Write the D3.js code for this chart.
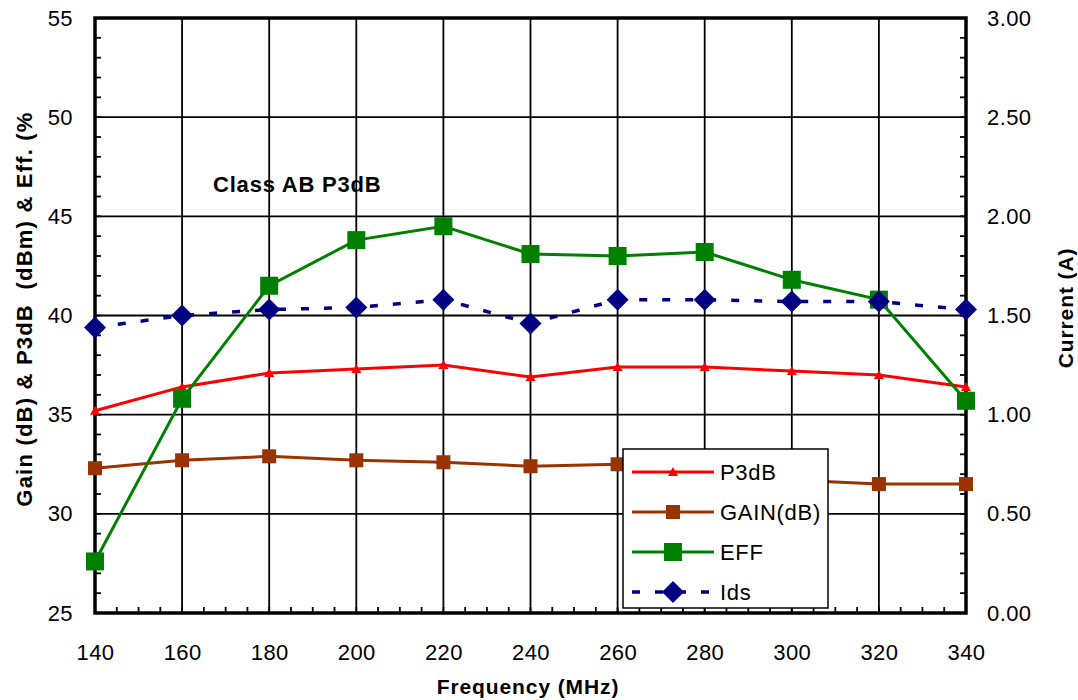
<!DOCTYPE html>
<html>
<head>
<meta charset="utf-8">
<script src="https://cdn.jsdelivr.net/npm/d3@7"></script>
<style>
  html, body { margin: 0; padding: 0; background: #fff; }
  svg { display: block; font-family: "Liberation Sans", Arial, sans-serif; }
  text { white-space: pre; }
</style>
</head>
<body>
<svg id="chart" width="1078" height="700"></svg>
<script>
// Frequency sweep (MHz)
const frequency = [140, 160, 180, 200, 220, 240, 260, 280, 300, 320, 340];
// Saturated output power P3dB (dBm)
const p3db = [35.2, 36.4, 37.1, 37.3, 37.5, 36.9, 37.4, 37.4, 37.2, 37.0, 36.4];
// Gain (dB)
const gain = [32.3, 32.7, 32.9, 32.7, 32.6, 32.4, 32.5, 32.1, 31.7, 31.5, 31.5];
// Drain efficiency (%)
const eff = [27.6, 35.8, 41.5, 43.8, 44.5, 43.1, 43.0, 43.2, 41.8, 40.8, 35.7];
// Drain current Ids (A), right axis
const ids = [1.44, 1.50, 1.53, 1.54, 1.58, 1.46, 1.58, 1.58, 1.57, 1.57, 1.53];

const xTicks = [140, 160, 180, 200, 220, 240, 260, 280, 300, 320, 340];
const yLeftTicks = [25, 30, 35, 40, 45, 50, 55];
const yRightTicks = [0, 0.5, 1.0, 1.5, 2.0, 2.5, 3.0];

const svg = d3.select("#chart");
const m = { left: 95, right: 966, top: 18, bottom: 613 };

const x = d3.scaleLinear().domain([140, 340]).range([m.left, m.right]);
const yL = d3.scaleLinear().domain([25, 55]).range([m.bottom, m.top]);
const yR = d3.scaleLinear().domain([0, 3]).range([m.bottom, m.top]);

// Grid
const grid = svg.append("g").attr("stroke", "#000").attr("stroke-width", 1.8);
grid.selectAll("line.v").data(xTicks.slice(1, -1)).join("line")
  .attr("x1", d => x(d)).attr("x2", d => x(d))
  .attr("y1", m.top).attr("y2", m.bottom);
grid.selectAll("line.h").data(yLeftTicks.slice(1, -1)).join("line")
  .attr("x1", m.left).attr("x2", m.right)
  .attr("y1", d => yL(d)).attr("y2", d => yL(d));

// Minor ticks (inside)
const minor = svg.append("g").attr("stroke", "#000").attr("stroke-width", 1.8);
minor.selectAll("line.lx").data(d3.range(145, 340, 5)).join("line")
  .attr("x1", d => x(d)).attr("x2", d => x(d))
  .attr("y1", m.bottom).attr("y2", m.bottom - 6);
minor.selectAll("line.ly").data(d3.range(26, 55, 1)).join("line")
  .attr("x1", m.left).attr("x2", m.left + 6)
  .attr("y1", d => yL(d)).attr("y2", d => yL(d));
minor.selectAll("line.ry").data(d3.range(1, 30, 1).map(d => d / 10)).join("line")
  .attr("x1", m.right).attr("x2", m.right - 6)
  .attr("y1", d => yR(d)).attr("y2", d => yR(d));

// Frame
svg.append("rect")
  .attr("x", m.left).attr("y", m.top)
  .attr("width", m.right - m.left).attr("height", m.bottom - m.top)
  .attr("fill", "none").attr("stroke", "#000").attr("stroke-width", 3.5);

// Axis labels via d3 axes
const fmt2 = d3.format(".2f");
const axB = svg.append("g").attr("transform", `translate(0,${m.bottom})`)
  .call(d3.axisBottom(x).tickValues(xTicks).tickSize(0).tickPadding(31));
const axL = svg.append("g").attr("transform", `translate(${m.left},0)`)
  .call(d3.axisLeft(yL).tickValues(yLeftTicks).tickSize(0).tickPadding(22));
const axR = svg.append("g").attr("transform", `translate(${m.right},0)`)
  .call(d3.axisRight(yR).tickValues(yRightTicks).tickFormat(fmt2).tickSize(0).tickPadding(21));
[axB, axL, axR].forEach(a => {
  a.select(".domain").remove();
  a.selectAll("text").attr("font-size", 22).attr("fill", "#000")
    .attr("letter-spacing", 0.4)
    .attr("font-family", "'Liberation Sans', Arial, sans-serif");
});

// Series
const series = [
  { name: "P3dB", values: p3db, scale: yL, color: "#ff0000", width: 3, dash: null, marker: "tri" },
  { name: "GAIN(dB)", values: gain, scale: yL, color: "#993300", width: 3, dash: null, marker: "sqS" },
  { name: "EFF", values: eff, scale: yL, color: "#008000", width: 3, dash: null, marker: "sqL" },
  { name: "Ids", values: ids, scale: yR, color: "#000080", width: 3.5, dash: "8,15", marker: "dia" }
];

function drawMarker(g, type, color) {
  if (type === "tri") {
    g.append("path").attr("d", "M0,-5L5,4L-5,4Z").attr("fill", color);
  } else if (type === "sqS") {
    g.append("rect").attr("x", -7).attr("y", -7).attr("width", 14).attr("height", 14).attr("fill", color);
  } else if (type === "sqL") {
    g.append("rect").attr("x", -9).attr("y", -9).attr("width", 18).attr("height", 18).attr("fill", color);
  } else if (type === "dia") {
    g.append("path").attr("d", "M0,-11L11,0L0,11L-11,0Z").attr("fill", color);
  }
}

series.forEach(s => {
  const line = d3.line().x((d, i) => x(frequency[i])).y(d => s.scale(d));
  svg.append("path").datum(s.values)
    .attr("d", line).attr("fill", "none")
    .attr("stroke", s.color).attr("stroke-width", s.width)
    .attr("stroke-dasharray", s.dash);
  s.values.forEach((v, i) => {
    const g = svg.append("g").attr("transform", `translate(${x(frequency[i])},${s.scale(v)})`);
    drawMarker(g, s.marker, s.color);
  });
});

// Annotation
svg.append("text").attr("x", 213).attr("y", 192)
  .attr("font-size", 22).attr("font-weight", "bold").attr("fill", "#000")
  .attr("letter-spacing", 0.8)
  .text("Class AB P3dB");

// Axis titles
svg.append("text")
  .attr("x", 528).attr("y", 694)
  .attr("text-anchor", "middle").attr("font-size", 21).attr("font-weight", "bold")
  .attr("letter-spacing", 0.9)
  .text("Frequency (MHz)");
svg.append("text")
  .attr("transform", "translate(32,309) rotate(-90)")
  .attr("text-anchor", "middle").attr("font-size", 22).attr("font-weight", "bold")
  .attr("letter-spacing", 1.2)
  .text("Gain (dB) & P3dB  (dBm) & Eff. (%");
svg.append("text")
  .attr("transform", "translate(1073,308) rotate(-90)")
  .attr("text-anchor", "middle").attr("font-size", 21).attr("font-weight", "bold")
  .attr("letter-spacing", 0.9)
  .text("Current (A)");

// Legend
const lg = svg.append("g");
lg.append("rect").attr("x", 623).attr("y", 449).attr("width", 205).attr("height", 159)
  .attr("fill", "#fff").attr("stroke", "#000").attr("stroke-width", 1.5);
series.forEach((s, i) => {
  const yy = 472 + i * 40;
  lg.append("line").attr("x1", 632).attr("x2", 714).attr("y1", yy).attr("y2", yy)
    .attr("stroke", s.color).attr("stroke-width", s.width)
    .attr("stroke-dasharray", s.dash);
  drawMarker(lg.append("g").attr("transform", `translate(673,${yy})`), s.marker, s.color);
  lg.append("text").attr("x", 720).attr("y", yy + 8).attr("font-size", 22).attr("fill", "#000")
    .attr("letter-spacing", 0.7)
    .text(s.name);
});
</script>
</body>
</html>
